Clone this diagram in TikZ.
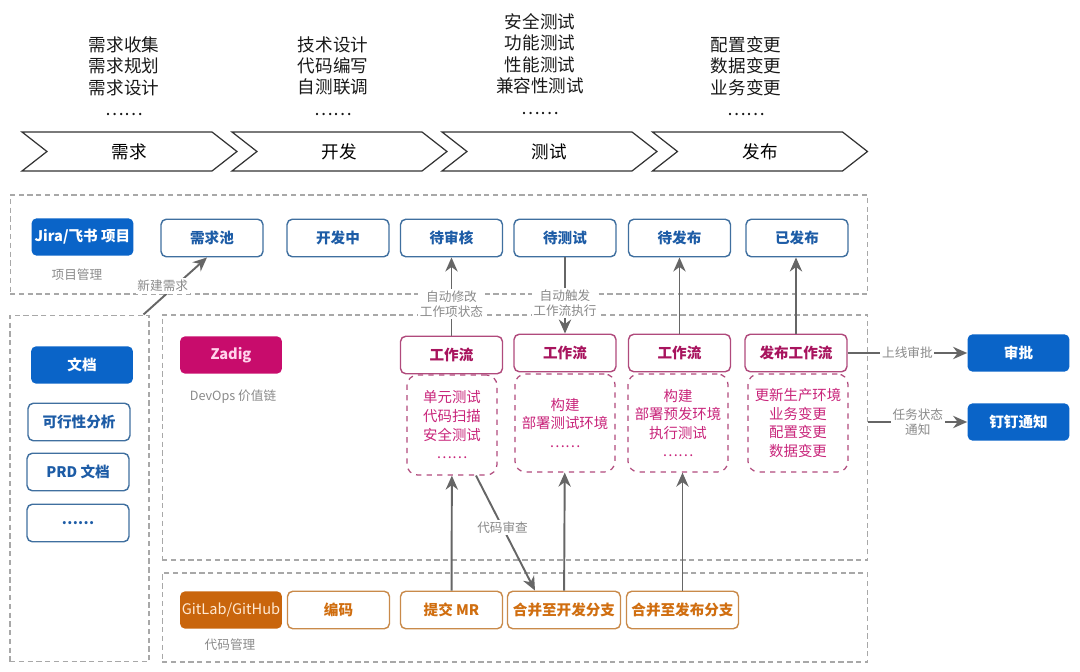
\documentclass[tikz,border=0pt]{standalone}
\usepackage{fontspec}
\setmainfont{Noto Sans CJK SC}
\usepackage{xcolor}
\usepackage{tikz}
\usetikzlibrary{shapes,arrows,positioning,calc,arrows.meta}

\definecolor{lkblue}{HTML}{0A64C8}
\definecolor{stblue}{HTML}{3F6F9F}
\definecolor{txblue}{HTML}{1D5CA6}
\definecolor{zdmag}{HTML}{C80C6C}
\definecolor{zdtext}{HTML}{FFD3EC}
\definecolor{wfline}{HTML}{B04A7C}
\definecolor{wftext}{HTML}{A8145E}
\definecolor{wfpink}{HTML}{C8247A}
\definecolor{gitorg}{HTML}{C9650C}
\definecolor{gittxt}{HTML}{FFE9D2}
\definecolor{gitline}{HTML}{C98A4A}
\definecolor{gittext}{HTML}{D06E10}
\definecolor{lblgray}{HTML}{8A8A8A}
\definecolor{boxgray}{HTML}{A8A8A8}
\definecolor{arrgray}{HTML}{666666}

\newcommand{\fs}[2]{\fontsize{#1}{#2}\selectfont}

\begin{document}
\begin{tikzpicture}[x=0.02cm, y=-0.02cm,
    stagebox/.style={signal, signal from=west, signal to=east, signal pointer angle=76, draw=black!80, line width=0.7pt, minimum width=4.3cm, minimum height=0.78cm, inner sep=0pt, font=\fs{10}{12}},
    tasklist/.style={align=center, font=\fs{10}{12.2}, text=black!90},
    area/.style={draw=boxgray, dash pattern=on 3pt off 2pt, line width=0.6pt, inner sep=0pt},
    toolbox/.style={rounded corners=3pt, minimum width=2.04cm, minimum height=0.75cm, inner sep=0pt, font=\fs{8.3}{10}\bfseries},
    pmbox/.style={toolbox, fill=lkblue, text=white},
    statebox/.style={toolbox, draw=stblue, line width=0.8pt, text=txblue, fill=white},
    zadigbox/.style={toolbox, fill=zdmag, text=zdtext},
    flowbox/.style={toolbox, draw=wfline, line width=0.8pt, text=wftext, fill=white},
    jobbox/.style={draw=wfline, dashed, rounded corners=6pt, line width=0.7pt, minimum width=2cm, minimum height=1.96cm, inner sep=0pt, align=center, text=wfpink, font=\fs{8.2}{10.6}},
    gitbox/.style={toolbox, fill=gitorg, text=gittxt, font=\fs{8.3}{10}},
    codebox/.style={toolbox, draw=gitline, line width=0.8pt, text=gittext, fill=white},
    note/.style={font=\fs{7.2}{8.6}, text=lblgray},
    lbl/.style={note, fill=white, inner sep=1pt, align=center},
    flow/.style={-{Stealth[length=8pt,width=7pt]}, draw=arrgray, line width=1.1pt}
]
\useasboundingbox (0,0) rectangle (1080,672);

% stages
\node[tasklist] (reqtask) at (124,76) {需求收集\\需求规划\\需求设计\\……};
\node[tasklist] (devtask) at (333,76) {技术设计\\代码编写\\自测联调\\……};
\node[tasklist] (testtask) at (540,64) {安全测试\\功能测试\\性能测试\\兼容性测试\\……};
\node[tasklist] (reltask) at (746,76) {配置变更\\数据变更\\业务变更\\……};

\node[stagebox] (s1) at (129.5,151.5) {需求};
\node[stagebox] (s2) at (339.5,151.5) {开发};
\node[stagebox] (s3) at (549.5,151.5) {测试};
\node[stagebox] (s4) at (760,151.5) {发布};

% areas
\node[area, minimum width=17.16cm, minimum height=1.98cm] (pm) at (439,244.5) {};
\node[area, minimum width=2.78cm, minimum height=6.94cm] (docs) at (79.5,488.5) {};
\node[area, minimum width=14.12cm, minimum height=4.9cm] (devops) at (515,437.5) {};
\node[area, minimum width=14.12cm, minimum height=1.78cm] (scm) at (515,617.5) {};

% project management
\node[pmbox] (jira) at (82.5,237) {Jira/飞书 项目};
\node[note] (pmnote) at (77,275) {项目管理};
\node[statebox] (pool) at (212,238) {需求池};
\node[statebox] (doing) at (338,238) {开发中};
\node[statebox] (review) at (451.5,238) {待审核};
\node[statebox] (totest) at (565,238) {待测试};
\node[statebox] (torel) at (679.5,238) {待发布};
\node[statebox] (done) at (797,238) {已发布};

% documents
\node[pmbox] (doc) at (82,365) {文档};
\node[statebox] (feas) at (79,422) {可行性分析};
\node[statebox] (prd) at (78,472) {PRD 文档};
\node[statebox] (more) at (78,523) {……};

% devops
\node[zadigbox] (zadig) at (231,355) {Zadig};
\node[note] (zdnote) at (233,397) {DevOps 价值链};
\node[flowbox] (w1) at (451.5,355) {工作流};
\node[flowbox] (w2) at (565,353) {工作流};
\node[flowbox] (w3) at (679.5,353) {工作流};
\node[flowbox] (w4) at (796,353) {发布工作流};
\node[jobbox, minimum width=1.8cm, minimum height=2cm] (j1) at (452,425) {单元测试\\代码扫描\\安全测试\\……};
\node[jobbox] (j2) at (565,423) {构建\\部署测试环境\\……};
\node[jobbox] (j3) at (678,423) {构建\\部署预发环境\\执行测试\\……};
\node[jobbox] (j4) at (798,423) {更新生产环境\\业务变更\\配置变更\\数据变更};

\node[pmbox] (approve) at (1018.5,353) {审批};
\node[pmbox] (ding) at (1018.5,422) {钉钉通知};

% code management
\node[gitbox] (gitlab) at (231,610) {GitLab/GitHub};
\node[note] (scmnote) at (230,645) {代码管理};
\node[codebox] (coding) at (338.5,610) {编码};
\node[codebox] (mr) at (451.5,610) {提交 MR};
\node[codebox, minimum width=2.26cm] (mdev) at (564,610) {合并至开发分支};
\node[codebox, minimum width=2.24cm] (mrel) at (682.5,610) {合并至发布分支};

% arrows
\draw[flow] ($(docs.north east)+(-6,0)$) -- ($(pool.south)+(-5,0)$) node[lbl, pos=0.5, xshift=-0.25cm] {新建需求};
\draw[flow] (w1) -- (review) node[lbl, pos=0.4] {自动修改\\工作项状态};
\draw[flow] (totest) -- (w2) node[lbl, pos=0.6] {自动触发\\工作流执行};
\draw[flow] (w3) -- (torel);
\draw[flow] (w4.north) -- (w4.north |- done.south);
\draw[flow] (w4) -- (approve) node[lbl, midway] {上线审批};
\draw[flow] (devops.east |- ding.west) -- (ding) node[lbl, midway] {任务状态\\通知};
\draw[flow] (mr) -- (j1);
\draw[flow] ($(j1.south)+(24,0)$) -- ($(mdev.north)+(-29,0)$) node[lbl, pos=0.45] {代码审查};
\draw[flow] (mdev) -- (j2);
\draw[flow] (mrel.north) -- (mrel.north |- j3.south);
\end{tikzpicture}
\end{document}
